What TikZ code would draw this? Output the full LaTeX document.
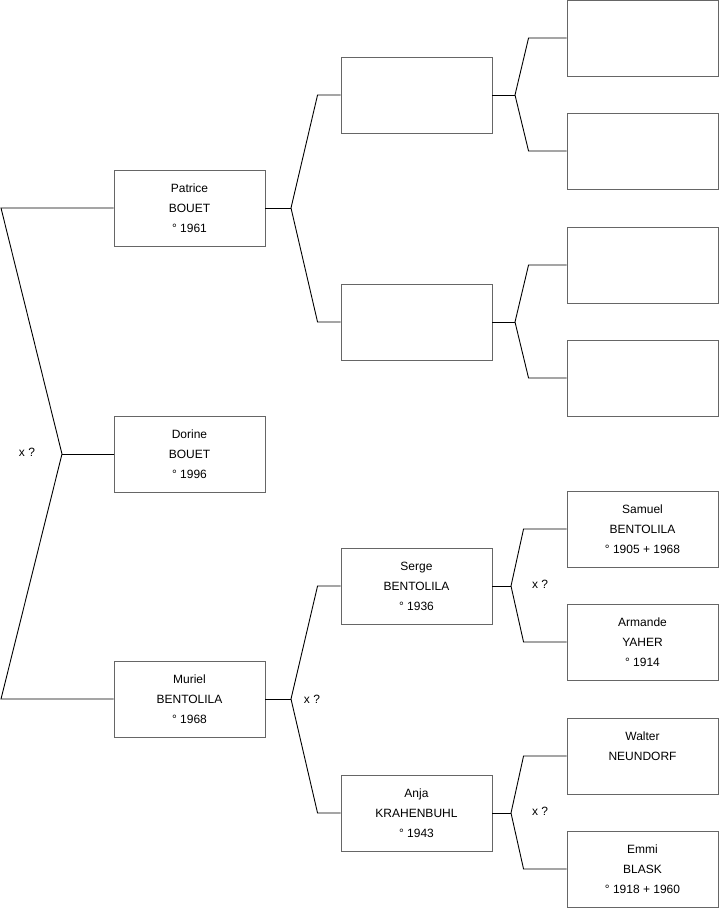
\documentclass[tikz,border=0pt]{standalone}
\usepackage{fontspec}
\setmainfont{Liberation Sans}
\usetikzlibrary{positioning}

\begin{document}
\begin{tikzpicture}[x=1pt,y=-1pt,font=\fontsize{12}{20}\selectfont,
  person/.style={draw=black!60,line width=0.9pt,minimum width=151pt,minimum height=76pt,align=center,inner sep=0pt},
  link/.style={line width=0.9pt}]
\useasboundingbox (0,0) rectangle (719,908);
% generation 1
\node[person] (patrice) at (189.5,208) {Patrice\\BOUET\\° 1961};
\node[person] (dorine) at (189.5,454) {Dorine\\BOUET\\° 1996};
\node[person] (muriel) at (189.5,699) {Muriel\\BENTOLILA\\° 1968};
% generation 2
\node[person] (pfather) at (416.5,95) {};
\node[person] (pmother) at (416.5,322) {};
\node[person] (serge) at (416.5,586) {Serge\\BENTOLILA\\° 1936};
\node[person] (anja) at (416.5,813) {Anja\\KRAHENBUHL\\° 1943};
% generation 3
\node[person] (pff) at (642.5,38) {};
\node[person] (pfm) at (642.5,151) {};
\node[person] (pmf) at (642.5,265) {};
\node[person] (pmm) at (642.5,378) {};
\node[person] (samuel) at (642.5,529) {Samuel\\BENTOLILA\\° 1905 + 1968};
\node[person] (armande) at (642.5,642) {Armande\\YAHER\\° 1914};
\node[person] (walter) at (642.5,756) {Walter\\NEUNDORF\\\mbox{}};
\node[person] (emmi) at (642.5,869) {Emmi\\BLASK\\° 1918 + 1960};
% unions
\node (xdorine) at (27,452) {x ?};
\node (xmuriel) at (312,699) {x ?};
\node (xserge) at (540,584) {x ?};
\node (xanja) at (540,811) {x ?};
% fork points
\coordinate (top) at (1,208);
\coordinate (bot) at (1,699);
\coordinate (mid) at (62,454);
\coordinate (fp) at (291,208);
\coordinate (fm) at (291,699);
\coordinate (fpf) at (515,95);
\coordinate (fpm) at (515,322);
\coordinate (fs) at (511,586);
\coordinate (fa) at (511,813);
% connectors
\draw[link] (patrice.west) -- (top) -- (mid) -- (bot) -- (muriel.west);
\draw[link] (mid) -- (dorine.west);
\draw[link] (patrice.east) -- (fp);
\draw[link] (pfather.west) -- ([xshift=-23pt]pfather.west) -- (fp) -- ([xshift=-23pt]pmother.west) -- (pmother.west);
\draw[link] (muriel.east) -- (fm);
\draw[link] (serge.west) -- ([xshift=-23pt]serge.west) -- (fm) -- ([xshift=-23pt]anja.west) -- (anja.west);
\draw[link] (pfather.east) -- (fpf);
\draw[link] (pff.west) -- ([xshift=-38pt]pff.west) -- (fpf) -- ([xshift=-38pt]pfm.west) -- (pfm.west);
\draw[link] (pmother.east) -- (fpm);
\draw[link] (pmf.west) -- ([xshift=-38pt]pmf.west) -- (fpm) -- ([xshift=-38pt]pmm.west) -- (pmm.west);
\draw[link] (serge.east) -- (fs);
\draw[link] (samuel.west) -- ([xshift=-43pt]samuel.west) -- (fs) -- ([xshift=-43pt]armande.west) -- (armande.west);
\draw[link] (anja.east) -- (fa);
\draw[link] (walter.west) -- ([xshift=-43pt]walter.west) -- (fa) -- ([xshift=-43pt]emmi.west) -- (emmi.west);
\end{tikzpicture}
\end{document}
